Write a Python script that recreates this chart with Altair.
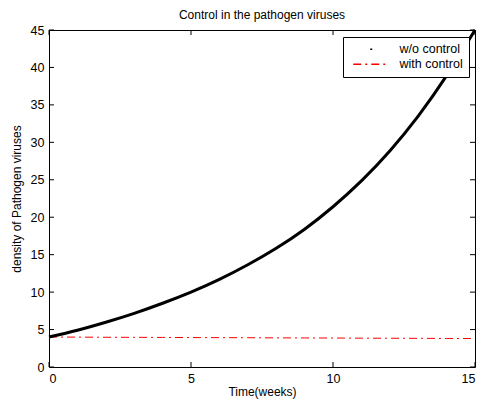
import altair as alt
import pandas as pd

weeks = [0, 1, 2, 3, 4, 5, 6, 7, 8, 9, 10, 11, 12, 13, 14, 15]
without_control = [4.0, 4.91, 5.97, 7.16, 8.51, 10.0, 11.7, 13.65, 15.85, 18.4, 21.4, 24.85, 28.85, 33.5, 38.9, 45.0]
with_control = [4.0, 3.99, 3.97, 3.96, 3.95, 3.93, 3.92, 3.91, 3.89, 3.88, 3.87, 3.85, 3.84, 3.83, 3.81, 3.80]
series = ["w/o control", "with control"]
x_ticks = [0, 5, 10, 15]
y_ticks = [0, 5, 10, 15, 20, 25, 30, 35, 40, 45]

df = pd.DataFrame({
    "t": weeks * 2,
    "v": without_control + with_control,
    "s": [series[0]] * len(weeks) + [series[1]] * len(weeks),
})
xt = pd.DataFrame({"t": x_ticks})
yt = pd.DataFrame({"v": y_ticks})

W, H = 426, 337
FONT = "Liberation Sans"
TL = 5

xs = alt.Scale(domain=[0, 15], nice=False, zero=False)
ys = alt.Scale(domain=[0, 45], nice=False)

leg = alt.Legend(title=None, orient="none", legendX=294, legendY=7,
                 strokeColor="black", fillColor="white", padding=6,
                 symbolType="M-3.6,0H3.6", symbolSize=100, symbolStrokeWidth=1.5,
                 symbolOffset=16, labelOffset=22, rowPadding=2,
                 labelFont=FONT, labelFontSize=12.5, labelColor="black", cornerRadius=0)

color = alt.Color("s:N", scale=alt.Scale(domain=series, range=["black", "red"]), legend=leg)
dash = alt.StrokeDash("s:N", scale=alt.Scale(domain=series, range=[[0.001, 17, 2, 100], [8, 4, 2, 4]]), legend=leg)

xax = alt.Axis(values=x_ticks, ticks=False, domain=False, grid=False,
               labelPadding=5, title="Time(weeks)", titlePadding=2,
               labelFont=FONT, labelFontSize=12.5, labelColor="black",
               titleFont=FONT, titleFontSize=12, titleFontWeight="normal", titleColor="black")
yax = alt.Axis(values=y_ticks, ticks=False, domain=False, grid=False,
               labelPadding=5, title="density of Pathogen viruses", titlePadding=7,
               labelFont=FONT, labelFontSize=12.5, labelColor="black",
               titleFont=FONT, titleFontSize=12, titleFontWeight="normal", titleColor="black")
xenc = alt.X("t:Q", scale=xs, axis=xax)
yenc = alt.Y("v:Q", scale=ys, axis=yax)

base = alt.Chart(df)
red = base.transform_filter(alt.datum.s == series[1]).mark_line(strokeWidth=1).encode(
    x=xenc, y=yenc, color=color, strokeDash=dash)
black = base.transform_filter(alt.datum.s == series[0]).mark_line(strokeWidth=3, interpolate="natural").encode(
    x=xenc, y=yenc, color=color)

xb = alt.Chart(xt).mark_rule(color="black", strokeWidth=1).encode(
    x=xenc, y=alt.value(H), y2=alt.value(H - TL))
xtop = alt.Chart(xt).mark_rule(color="black", strokeWidth=1).encode(
    x=xenc, y=alt.value(0), y2=alt.value(TL))
yl = alt.Chart(yt).mark_rule(color="black", strokeWidth=1).encode(
    y=yenc, x=alt.value(0), x2=alt.value(TL))
yr = alt.Chart(yt).mark_rule(color="black", strokeWidth=1).encode(
    y=yenc, x=alt.value(W - TL), x2=alt.value(W))

chart = alt.layer(red, black, xb, xtop, yl, yr).properties(
    width=W, height=H,
    title=alt.TitleParams("Control in the pathogen viruses", font=FONT, fontSize=12,
                          fontWeight="normal", color="black", offset=2),
    autosize=alt.AutoSizeParams(type="none"),
    padding={"left": 41, "top": 22, "right": 7, "bottom": 34},
).configure(background="white").configure_view(stroke="black", strokeWidth=1)

chart.save("out.html", embed_options={"renderer": "svg", "actions": False})
